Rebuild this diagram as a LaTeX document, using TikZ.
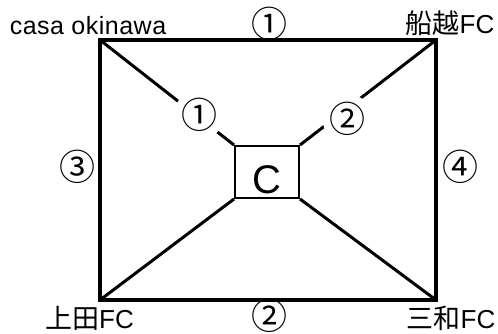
\documentclass[tikz,border=0pt]{standalone}
\usepackage{fontspec}
\setmainfont{Liberation Sans}
\newfontfamily\jpfont{Noto Sans CJK JP}
\newfontfamily\latfont[LetterSpace=2]{Liberation Sans}
\newcommand{\fcpart}{{\fontspec{Liberation Sans}\fontsize{26}{26}\selectfont FC}}
\begin{document}
\begin{tikzpicture}[x=1pt,y=-1pt,
  outer/.style={line width=3.6pt,line join=miter},
  diag/.style={line width=3pt},
  cbox/.style={draw,line width=2pt,rectangle,minimum width=64pt,minimum height=52pt,inner sep=0pt,
    font=\fontsize{40}{40}\selectfont,text height=43pt,text depth=0pt},
  num/.style={font=\jpfont\fontsize{36}{36}\selectfont,inner sep=0pt},
  gapnum/.style={num,circle,fill=white,minimum size=50pt},
  team/.style={font=\jpfont\fontsize{27}{27}\selectfont,inner sep=0pt,anchor=base},
  casa/.style={font=\latfont\fontsize{25}{25}\selectfont,inner sep=0pt,anchor=base}]
\useasboundingbox (0,0) rectangle (498,333);
\coordinate (tl) at (100,40);
\coordinate (tr) at (436,40);
\coordinate (bl) at (100,300);
\coordinate (br) at (436,300);
\node[cbox] (c) at (267,172) {C};
\draw[outer] (tl) -- (tr) -- (br) -- (bl) -- cycle;
\draw[diag] (tl) -- (c.north west);
\draw[diag] (tr) -- (c.north east);
\draw[diag] (bl) -- (c.south west);
\draw[diag] (br) -- (c.south east);
\node[gapnum] (d1) at (199,115) {①};
\node[gapnum] (d2) at (347.5,119) {②};
\node[num] (t1) at (269,24) {①};
\node[num] (b2) at (269,316) {②};
\node[num] (l3) at (77,167) {③};
\node[num] (r4) at (460,167) {④};
\node[casa] (casa) at (88,34) {casa okinawa};
\node[team] (fun) at (450,33) {船越\fcpart};
\node[team] (ueda) at (89.5,328) {上田\fcpart};
\node[team] (sanwa) at (451,328) {三和\fcpart};
\end{tikzpicture}
\end{document}
